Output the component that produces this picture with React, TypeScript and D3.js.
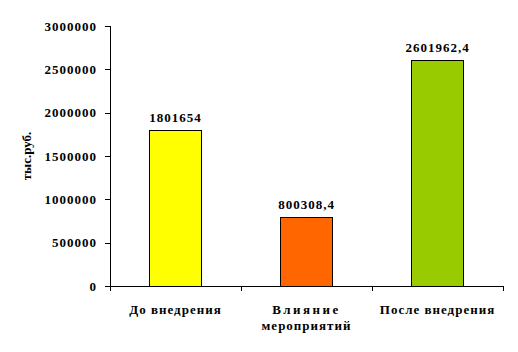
import * as d3 from "d3";
import { useEffect, useRef } from "react";

const categories = ["До внедрения", "Влияние мероприятий", "После внедрения"];
const values = [1801654, 800308.4, 2601962.4];
const valueLabels = ["1801654", "800308,4", "2601962,4"];
const colors = ["#ffff00", "#ff6600", "#99cc00"];
const yTicks = [0, 500000, 1000000, 1500000, 2000000, 2500000, 3000000];
const yLabel = "тыс.руб.";

const width = 518;
const height = 352;
const margin = { top: 26, right: 15, bottom: 66, left: 110 };

export default function App() {
  const svgRef = useRef<SVGSVGElement | null>(null);

  useEffect(() => {
    const svg = d3.select(svgRef.current);
    svg.selectAll("*").remove();

    const x = d3
      .scaleBand()
      .domain(categories)
      .range([margin.left, width - margin.right])
      .paddingInner(0.6)
      .paddingOuter(0.3);

    // full category bands, for the axis ticks
    const xOuter = d3
      .scaleBand()
      .domain(categories)
      .range([margin.left, width - margin.right]);

    const y = d3
      .scaleLinear()
      .domain([0, 3000000])
      .range([height - margin.bottom, margin.top]);

    const g = svg.append("g");

    // y axis
    g.append("line")
      .attr("x1", margin.left + 0.5)
      .attr("x2", margin.left + 0.5)
      .attr("y1", y(3000000))
      .attr("y2", y(0))
      .attr("stroke", "#000");
    g.selectAll(".ytick")
      .data(yTicks)
      .join("line")
      .attr("x1", margin.left - 5)
      .attr("x2", margin.left)
      .attr("y1", (d) => Math.round(y(d)) + 0.5)
      .attr("y2", (d) => Math.round(y(d)) + 0.5)
      .attr("stroke", "#000");
    g.selectAll(".ylab")
      .data(yTicks)
      .join("text")
      .attr("x", margin.left - 13)
      .attr("y", (d) => y(d))
      .attr("dy", "0.35em")
      .attr("text-anchor", "end")
      .attr("letter-spacing", 1)
      .text((d) => String(d));

    // x axis
    g.append("line")
      .attr("x1", margin.left)
      .attr("x2", width - margin.right)
      .attr("y1", y(0) + 0.5)
      .attr("y2", y(0) + 0.5)
      .attr("stroke", "#000");
    const xt = categories.map((c) => xOuter(c)!).concat([width - margin.right]);
    g.selectAll(".xtick")
      .data(xt)
      .join("line")
      .attr("x1", (d) => Math.round(d) + 0.5)
      .attr("x2", (d) => Math.round(d) + 0.5)
      .attr("y1", y(0))
      .attr("y2", y(0) + 5)
      .attr("stroke", "#000");

    // bars
    g.selectAll(".bar")
      .data(values)
      .join("rect")
      .attr("x", (_, i) => Math.round(x(categories[i])!) + 0.5)
      .attr("y", (d) => Math.round(y(d)) + 0.5)
      .attr("width", Math.round(x.bandwidth()))
      .attr("height", (d) => Math.round(y(0)) - Math.round(y(d)))
      .attr("fill", (_, i) => colors[i])
      .attr("stroke", "#000");

    // value labels
    g.selectAll(".val")
      .data(values)
      .join("text")
      .attr("x", (_, i) => x(categories[i])! + x.bandwidth() / 2)
      .attr("y", (d) => y(d) - 8)
      .attr("text-anchor", "middle")
      .attr("letter-spacing", 1)
      .text((_, i) => valueLabels[i]);

    // category labels
    const catLines = [["До внедрения"], ["Влияние", "мероприятий"], ["После внедрения"]];
    categories.forEach((c, i) => {
      const cx = xOuter(c)! + xOuter.bandwidth() / 2;
      const t = g
        .append("text")
        .attr("x", cx)
        .attr("y", y(0) + 28)
        .attr("text-anchor", "middle");
      catLines[i].forEach((line, j) => {
        t.append("tspan")
          .attr("x", cx)
          .attr("dy", j === 0 ? 0 : 16)
          .attr("letter-spacing", i === 1 && j === 0 ? 2.5 : 1)
          .text(line);
      });
    });

    // y label
    g.append("text")
      .attr("transform", `translate(31,${(y(0) + y(3000000)) / 2}) rotate(-90)`)
      .attr("text-anchor", "middle")
      .text(yLabel);
  }, []);

  return (
    <svg
      ref={svgRef}
      width={width}
      height={height}
      style={{
        position: "absolute",
        left: 0,
        top: 0,
        background: "#fff",
        fontFamily: "'Liberation Serif', 'Times New Roman', serif",
        fontWeight: "bold",
        fontSize: "13px",
      }}
    />
  );
}
